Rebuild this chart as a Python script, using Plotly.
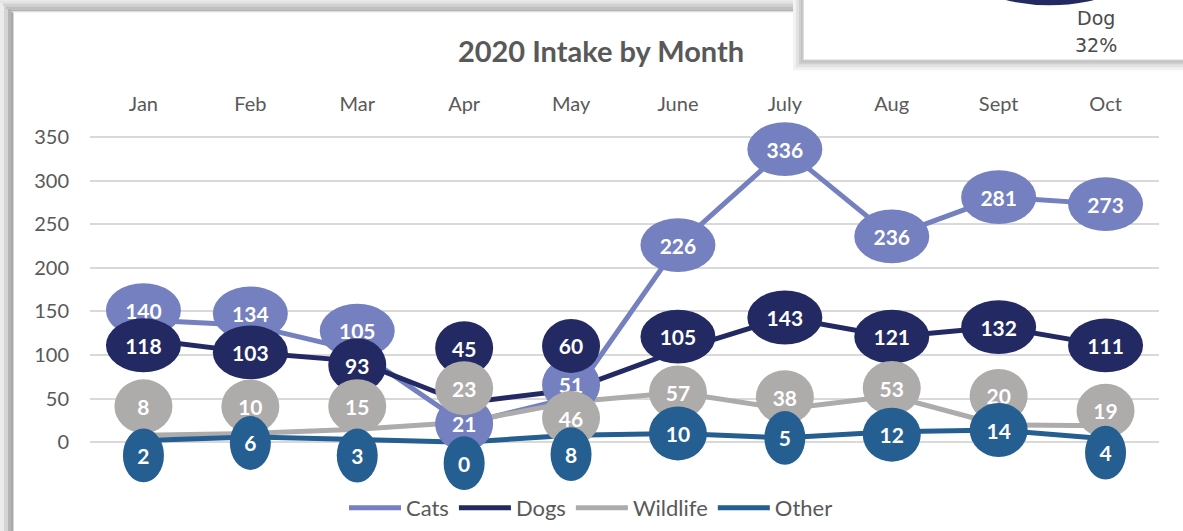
import plotly.graph_objects as go

# ---------------- data ----------------
months = ["Jan", "Feb", "Mar", "Apr", "May", "June", "July", "Aug", "Sept", "Oct"]
cats = [140, 134, 105, 21, 51, 226, 336, 236, 281, 273]
dogs = [118, 103, 93, 45, 60, 105, 143, 121, 132, 111]
wildlife = [8, 10, 15, 23, 46, 57, 38, 53, 20, 19]
other = [2, 6, 3, 0, 8, 10, 5, 12, 14, 4]
y_ticks = [0, 50, 100, 150, 200, 250, 300, 350]

# label placement (pixel offsets, + = up), as moved by hand in the original
cats_label_dy = [10, 12, 20, 0, 13, 0, 0, 0, 0, 0]
dogs_label_dy = [-6, 0, -4, 55, 44, 14, 0, 0, 0, 0]
wild_label_dy = [29, 27, 23, 34, -16, 0, 12, 8, 29, 15]
other_label_dy = [-15, -6, -16, -21, -19, 0, 0, -3, 0, -14]

# ---------------- styling ----------------
W, H = 1183, 531
PL, PR, PT, PB = 90, 1159, 122, 528          # plot area in pixels
PX_PER_UNIT = (443 - 137) / 350.0
PX_PER_CAT = (PR - PL) / len(months)
y_top = 350 + (137 - PT) / PX_PER_UNIT
y_bot = 0 - (PB - 443) / PX_PER_UNIT

FONT = "Lato"
GREY_TXT = "#595959"

series = [
    ("Cats", cats, cats_label_dy, "#7480BF", "#7480BF", None),
    ("Dogs", dogs, dogs_label_dy, "#232A63", "#232A63", None),
    ("Wildlife", wildlife, wild_label_dy, "#AEABAB", "#AEABAB", 58),
    ("Other", other, other_label_dy, "#255E91", "#255E91", None),
]


def px_x(p):
    return (p - PL) / (PR - PL)


def px_y(p):
    return (PB - p) / (PB - PT)


fig = go.Figure()
for name, vals, _, lc, _, _ in series:
    fig.add_trace(go.Scatter(
        x=list(range(len(months))), y=vals, name=name, mode="lines",
        line=dict(color=lc, width=5), hoverinfo="skip",
    ))

shapes = []
# label ellipses, drawn series by series so later series sit on top
for name, vals, dys, _, fc, fixed_w in series:
    for i, (v, dy) in enumerate(zip(vals, dys)):
        digits = len(str(v))
        w = fixed_w if fixed_w else 24 + 17 * digits
        h = 54
        cy = v + dy / PX_PER_UNIT
        shapes.append(dict(
            type="circle", layer="above", xref="x", yref="y",
            x0=i - w / 2 / PX_PER_CAT, x1=i + w / 2 / PX_PER_CAT,
            y0=cy - h / 2 / PX_PER_UNIT, y1=cy + h / 2 / PX_PER_UNIT,
            fillcolor=fc, line=dict(width=0),
            label=dict(text=str(v), textposition="middle center",
                       font=dict(family=FONT, size=21, color="white", weight="bold")),
        ))

# ---- frame shadows (chart border) ----
left_band = [(0, 4, "#ececec"), (4, 8, "#d4d4d4"), (8, 11, "#b4b4b4"), (11, 13, "#a8a8a8"), (13, 14, "#d8d8d8")]
for a, b, c in left_band:
    shapes.append(dict(type="rect", xref="paper", yref="paper", layer="above",
                       x0=px_x(a), x1=px_x(b), y0=px_y(H + 5), y1=px_y(min(a, 12)),
                       fillcolor=c, line=dict(width=0)))
top_band = [(0, 3, "#e4e4e4"), (3, 6, "#d2d2d2"), (6, 9, "#c0c0c0"), (9, 11, "#b2b2b2"), (11, 12, "#d8d8d8")]
for a, b, c in top_band:
    shapes.append(dict(type="rect", xref="paper", yref="paper", layer="above",
                       x0=px_x(a), x1=px_x(803), y0=px_y(b), y1=px_y(a),
                       fillcolor=c, line=dict(width=0)))

# ---- overlapping pie-chart box (top right) ----
box_shadow = [(10, "#f2f2f2"), (7, "#e2e2e2"), (4, "#cfcfcf"), (2, "#c0c0c0")]
for d, c in box_shadow:
    shapes.append(dict(type="rect", xref="paper", yref="paper", layer="above",
                       x0=px_x(803 - d), x1=px_x(W + 5), y0=px_y(60 + d), y1=px_y(-5),
                       fillcolor=c, line=dict(width=0)))
shapes.append(dict(type="rect", xref="paper", yref="paper", layer="above",
                   x0=px_x(803), x1=px_x(W + 5), y0=px_y(60), y1=px_y(-5),
                   fillcolor="white", line=dict(color="#d0d0d0", width=1.5)))
shapes.append(dict(type="circle", xref="paper", yref="paper", layer="above",
                   x0=px_x(1050 - 187), x1=px_x(1050 + 187),
                   y0=px_y(5), y1=px_y(5 - 374),
                   fillcolor="#232A63", line=dict(width=0)))

annotations = [
    dict(text="Dog", xref="paper", yref="paper", x=px_x(1096), y=px_y(18),
         xanchor="center", yanchor="middle", showarrow=False,
         font=dict(family="DejaVu Sans", size=19, color="#4a4a4a")),
    dict(text="32%", xref="paper", yref="paper", x=px_x(1096), y=px_y(45),
         xanchor="center", yanchor="middle", showarrow=False,
         font=dict(family="DejaVu Sans", size=19, color="#4a4a4a")),
]

fig.update_layout(
    width=W, height=H,
    margin=dict(l=PL, r=W - PR, t=PT, b=H - PB, pad=0),
    paper_bgcolor="white", plot_bgcolor="white",
    title=dict(text="<b>2020 Intake by Month</b>", x=601 / W, xref="container", xanchor="center",
               y=1 - 52 / H, yref="container", yanchor="middle",
               font=dict(family=FONT, size=29, color=GREY_TXT)),
    xaxis=dict(type="linear", range=[-0.5, len(months) - 0.5], side="top",
               tickvals=list(range(len(months))), ticktext=months,
               showgrid=False, zeroline=False, showline=False, ticks="",
               tickfont=dict(family=FONT, size=20, color=GREY_TXT), ticklabelstandoff=6),
    yaxis=dict(range=[y_bot, y_top], tickvals=y_ticks, showgrid=True,
               gridcolor="#D9D9D9", gridwidth=1.5, zeroline=False, showline=False, ticks="",
               tickfont=dict(family=FONT, size=20, color=GREY_TXT), ticklabelstandoff=20),
    legend=dict(orientation="h", x=px_x(591), xanchor="center", y=px_y(508), yanchor="middle",
                font=dict(family=FONT, size=22, color=GREY_TXT), bgcolor="rgba(0,0,0,0)",
                itemwidth=52, tracegroupgap=0),
    shapes=shapes, annotations=annotations, showlegend=True,
)

fig.write_html("out.html", config={"displayModeBar": False},
               post_script="document.body.style.margin='0';")
